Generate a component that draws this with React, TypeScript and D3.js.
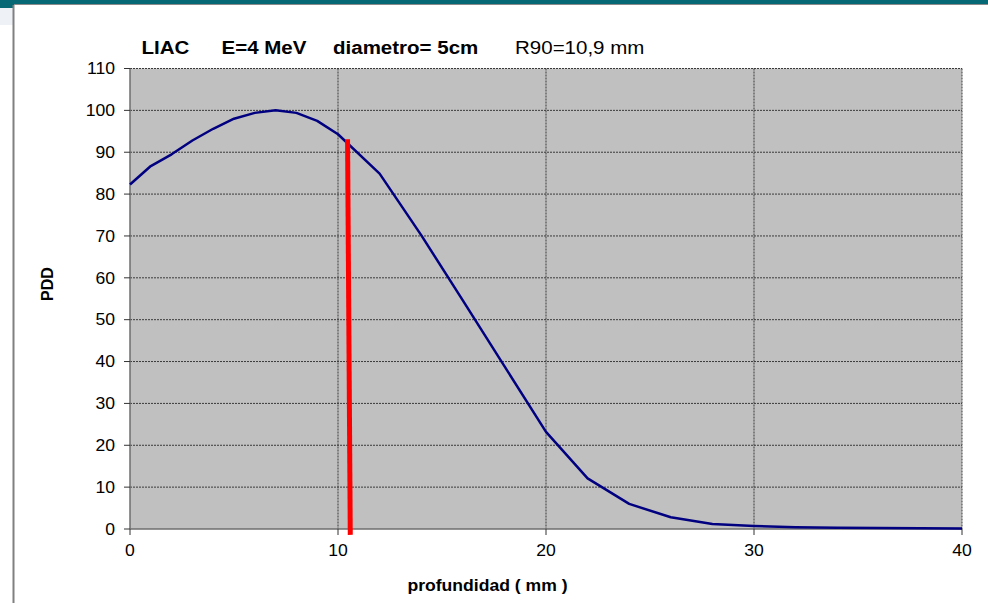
import React from "react";
import * as d3 from "d3";

const depthMm = [0, 1, 2, 3, 4, 5, 6, 7, 8, 9, 10, 12, 14, 16, 18, 20, 22, 24, 26, 28, 30, 32, 34, 36, 38, 40];
const pddValues = [82.3, 86.7, 89.5, 92.8, 95.6, 98.0, 99.4, 100, 99.4, 97.5, 94.3, 84.9, 70.2, 54.6, 38.9, 23.2, 12.1, 6.0, 2.8, 1.2, 0.7, 0.4, 0.3, 0.25, 0.2, 0.1];
const r90LineX = [10.46, 10.59];
const r90LineY = [93.1, -1.4];
const xTicks = [0, 10, 20, 30, 40];
const yTicks = [0, 10, 20, 30, 40, 50, 60, 70, 80, 90, 100, 110];
const titleParts = ["LIAC", "E=4 MeV", "diametro= 5cm"];
const titleNote = "R90=10,9 mm";
const xLabel = "profundidad ( mm )";
const yLabel = "PDD";

const W = 988;
const H = 603;
const FONT = "'Liberation Sans', Arial, sans-serif";

function SText({ x, y, size, bold, anchor = "start", sx = 1.1, rotate = 0, children }: any) {
  return (
    <g transform={`translate(${x},${y}) rotate(${rotate}) scale(${sx},1)`}>
      <text
        x={0}
        y={0}
        fontSize={size}
        fontWeight={bold ? "bold" : "normal"}
        textAnchor={anchor}
        fontFamily={FONT}
        fill="#000"
      >
        {children}
      </text>
    </g>
  );
}

export default function App() {
  const x = d3.scaleLinear().domain([0, 40]).range([130, 962]);
  const y = d3.scaleLinear().domain([0, 110]).range([529, 68.5]);
  const pts = depthMm.map((d, i) => [d, pddValues[i]] as [number, number]);
  const line = d3
    .line<[number, number]>()
    .x((d) => x(d[0]))
    .y((d) => y(d[1]));
  const redPts = r90LineX.map((d, i) => [d, r90LineY[i]] as [number, number]);

  const [x0, x1] = x.range();
  const [y0, y1] = y.range();
  const titleX = [141.5, 221.5, 333];

  return (
    <svg
      width={W}
      height={H}
      style={{ position: "fixed", left: 0, top: 0, background: "#fff" }}
    >
      <rect x={0} y={0} width={W} height={H} fill="#fff" />
      {/* slide frame */}
      <rect x={0} y={5} width={13} height={20} fill="#eef1f6" />
      <rect x={0} y={0} width={W} height={4} fill="#066875" />
      <rect x={0} y={0} width={14} height={8} fill="#066875" />
      <line x1={14} x2={W} y1={4.5} y2={4.5} stroke="#8a8a8a" strokeWidth={1.2} />
      <line x1={13.5} x2={13.5} y1={5} y2={H} stroke="#808080" strokeWidth={2} />

      {/* plot area */}
      <rect x={x0} y={y1} width={x1 - x0} height={y0 - y1} fill="#c0c0c0" />
      {yTicks
        .filter((t) => t > 0)
        .map((t) => (
          <line
            key={"gy" + t}
            x1={x0}
            x2={x1}
            y1={y(t)}
            y2={y(t)}
            stroke="#3a3a3a"
            strokeWidth={1}
            strokeDasharray="2,1"
          />
        ))}
      {xTicks
        .filter((t) => t > 0)
        .map((t) => (
          <line
            key={"gx" + t}
            x1={x(t)}
            x2={x(t)}
            y1={y1}
            y2={y0}
            stroke="#3a3a3a"
            strokeWidth={1}
            strokeDasharray="2,1"
          />
        ))}
      {/* axes */}
      <line x1={x0} x2={x0} y1={y1} y2={y0} stroke="#6e6e6e" strokeWidth={1.5} />
      <line x1={x0} x2={x1} y1={y0} y2={y0} stroke="#6e6e6e" strokeWidth={1.5} />
      {yTicks.map((t) => (
        <g key={"ty" + t}>
          <line x1={x0 - 6} x2={x0} y1={y(t)} y2={y(t)} stroke="#333" strokeWidth={1} />
          <SText x={115} y={y(t) + 5.8} size={16} anchor="end">
            {t}
          </SText>
        </g>
      ))}
      {xTicks.map((t) => (
        <g key={"tx" + t}>
          <line x1={x(t)} x2={x(t)} y1={y0} y2={y0 + 6} stroke="#333" strokeWidth={1} />
          <SText x={x(t)} y={556} size={16} anchor="middle">
            {t}
          </SText>
        </g>
      ))}

      {/* data */}
      <path d={line(pts) || ""} fill="none" stroke="#000080" strokeWidth={2.5} strokeLinejoin="round" />
      <path d={line(redPts) || ""} fill="none" stroke="#ff0000" strokeWidth={5} />

      {/* titles */}
      {titleParts.map((p, i) => (
        <SText key={p} x={titleX[i]} y={53.5} size={19} bold sx={1.08}>
          {p}
        </SText>
      ))}
      <SText x={515} y={53.5} size={19} sx={1.08}>
        {titleNote}
      </SText>
      <SText x={487.5} y={591} size={16} bold anchor="middle">
        {xLabel}
      </SText>
      <SText x={53} y={284} size={16} bold anchor="middle" rotate={-90} sx={1}>
        {yLabel}
      </SText>
    </svg>
  );
}
